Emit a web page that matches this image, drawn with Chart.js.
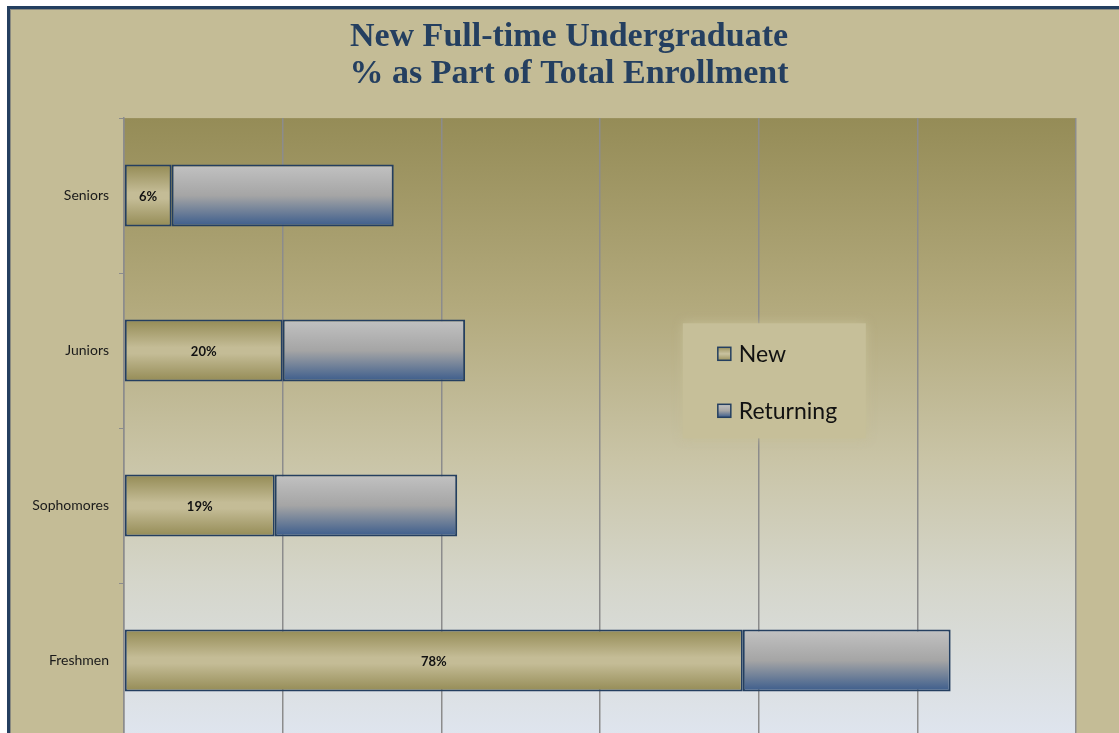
<!DOCTYPE html>
<html lang="en">
  <head>
    <meta charset="UTF-8" />
    <title>New Full-time Undergraduate</title>
    <style>
      * {
        margin: 0;
        padding: 0;
        box-sizing: border-box;
      }

      body {
        width: 1119px;
        height: 733px;
        overflow: hidden;
        background: #ffffff;
        position: relative;
      }

      .frame {
        position: absolute;
        left: 7px;
        top: 6px;
        width: 1200px;
        height: 800px;
        background: #c4bc96;
        border: 3px solid #243f60;
        box-shadow: inset 1px 1px 0 #8a8a80;
      }

      .chartBox {
        position: absolute;
        left: 0;
        top: 0;
        width: 1138px;
        height: 760px;
      }
    </style>
  </head>
  <body>
    <div class="frame"></div>
    <div class="chartBox">
      <canvas id="myChart"></canvas>
    </div>

    <script src="https://cdn.jsdelivr.net/npm/chart.js"></script>

    <script>
      const classes = ["Seniors", "Juniors", "Sophomores", "Freshmen"];
      const newStudents = [30, 100, 95, 390];
      const returningStudents = [140, 115, 115, 131];
      const newPctLabels = ["6%", "20%", "19%", "78%"];

      const bodyFont = "Lato, 'Open Sans', sans-serif";

      // bar height in px, from the category scale
      function barHeight(chart) {
        const y = chart.scales.y;
        return Math.abs(y.getPixelForValue(1) - y.getPixelForValue(0)) * 0.4;
      }

      function newFill(c) {
        const chart = c.chart;
        if (!chart.chartArea) return "#c4bc96";
        const yc = chart.scales.y.getPixelForValue(c.dataIndex);
        const h = barHeight(chart);
        const g = chart.ctx.createLinearGradient(0, yc - h / 2, 0, yc + h / 2);
        g.addColorStop(0, "#948b55");
        g.addColorStop(0.45, "#c4bc96");
        g.addColorStop(0.55, "#c4bc96");
        g.addColorStop(1, "#948b55");
        return g;
      }

      function returningFill(c) {
        const chart = c.chart;
        if (!chart.chartArea) return "#a6a6a6";
        const yc = chart.scales.y.getPixelForValue(c.dataIndex);
        const h = barHeight(chart);
        const g = chart.ctx.createLinearGradient(0, yc - h / 2, 0, yc + h / 2);
        g.addColorStop(0, "#c2c2c2");
        g.addColorStop(0.5, "#a5a5a5");
        g.addColorStop(1, "#3b5c8c");
        return g;
      }

      const plotBg = {
        id: "plotBg",
        beforeDraw(chart) {
          const {
            ctx,
            chartArea: { top, bottom, left, right },
          } = chart;
          ctx.save();
          const g = ctx.createLinearGradient(0, top, 0, bottom);
          g.addColorStop(0, "#958c57");
          g.addColorStop(0.3, "#b2a97c");
          g.addColorStop(0.55, "#c9c4a6");
          g.addColorStop(0.75, "#d5d6cb");
          g.addColorStop(1, "#dfe5ef");
          ctx.fillStyle = g;
          ctx.fillRect(left, top, right - left, bottom - top);
          ctx.restore();
        },
      };

      const pctLabels = {
        id: "pctLabels",
        afterDatasetsDraw(chart) {
          const { ctx } = chart;
          const meta = chart.getDatasetMeta(0);
          ctx.save();
          ctx.font = "bold 13px " + bodyFont;
          ctx.fillStyle = "#111111";
          ctx.textAlign = "center";
          ctx.textBaseline = "middle";
          meta.data.forEach((bar, i) => {
            const x = (bar.x + bar.base) / 2;
            ctx.fillText(newPctLabels[i], x, bar.y + 1);
          });
          ctx.restore();
        },
      };

      const boxLegend = {
        id: "boxLegend",
        afterDraw(chart) {
          const {
            ctx,
            chartArea: { top, bottom, left, right },
          } = chart;
          const bx = left + (right - left) * 0.587;
          const by = top + (bottom - top) * 0.331;
          const bw = 183;
          const bh = 115;
          ctx.save();
          ctx.shadowColor = "rgba(196, 188, 150, 0.9)";
          ctx.shadowBlur = 10;
          ctx.fillStyle = "#c6bf99";
          ctx.fillRect(bx, by, bw, bh);
          ctx.shadowBlur = 0;

          const fills = [
            ["#9c935f", "#c9c2a0", "#9c935f"],
            ["#c2c2c2", "#a5a5a5", "#3b5c8c"],
          ];
          ctx.font = "23px " + bodyFont;
          ctx.textBaseline = "middle";
          chart.data.datasets.forEach((ds, i) => {
            const my = by + 24 + i * 57;
            const mx = bx + 35;
            const g = ctx.createLinearGradient(0, my, 0, my + 13);
            g.addColorStop(0, fills[i][0]);
            g.addColorStop(0.5, fills[i][1]);
            g.addColorStop(1, fills[i][2]);
            ctx.fillStyle = g;
            ctx.fillRect(mx, my, 13, 13);
            ctx.strokeStyle = "#243f60";
            ctx.lineWidth = 1.5;
            ctx.strokeRect(mx, my, 13, 13);
            ctx.fillStyle = "#111111";
            ctx.fillText(ds.label, mx + 21, my + 7);
          });
          ctx.restore();
        },
      };

      const data = {
        labels: classes,
        datasets: [
          {
            label: "New",
            data: newStudents,
            backgroundColor: newFill,
            borderColor: "#243f60",
            borderWidth: 2,
            borderSkipped: false,
            barPercentage: 0.8,
            categoryPercentage: 0.5,
          },
          {
            label: "Returning",
            data: returningStudents,
            backgroundColor: returningFill,
            borderColor: "#243f60",
            borderWidth: 2,
            borderSkipped: false,
            barPercentage: 0.8,
            categoryPercentage: 0.5,
          },
        ],
      };

      const config = {
        type: "bar",
        data: data,
        options: {
          indexAxis: "y",
          responsive: true,
          maintainAspectRatio: false,
          animation: false,
          layout: {
            padding: { left: 0, right: 0, top: 0, bottom: 22 },
          },
          plugins: {
            legend: { display: false },
            tooltip: { enabled: false },
            title: {
              display: true,
              text: ["New Full-time Undergraduate", "% as Part of Total Enrollment"],
              color: "#243f60",
              font: {
                family: "'Liberation Serif', 'Times New Roman', serif",
                size: 34,
                weight: "bold",
                lineHeight: 1.09,
              },
              padding: { top: 19, bottom: 25 },
            },
          },
          scales: {
            x: {
              stacked: true,
              min: 0,
              max: 600,
              ticks: { display: false, stepSize: 100 },
              border: { display: false },
              grid: {
                color: "#8c8c8c",
                lineWidth: 1.5,
                drawTicks: false,
              },
            },
            y: {
              stacked: true,
              afterFit(scale) {
                scale.width = 124;
              },
              border: { color: "#8c8c8c", width: 1.5 },
              grid: {
                offset: true,
                drawOnChartArea: false,
                color: "#8c8c8c",
                tickLength: 5,
              },
              ticks: {
                color: "#1a1a1a",
                padding: 10,
                font: { family: bodyFont, size: 14 },
              },
            },
            // empty right-hand axis, keeps the khaki margin on the right
            yRight: {
              axis: "y",
              type: "linear",
              position: "right",
              afterFit(scale) {
                scale.width = 62;
              },
              grid: { display: false },
              ticks: { display: false },
              border: { display: false },
            },
          },
        },
        plugins: [plotBg, pctLabels, boxLegend],
      };

      const myChart = new Chart(document.getElementById("myChart"), config);
    </script>
  </body>
</html>
